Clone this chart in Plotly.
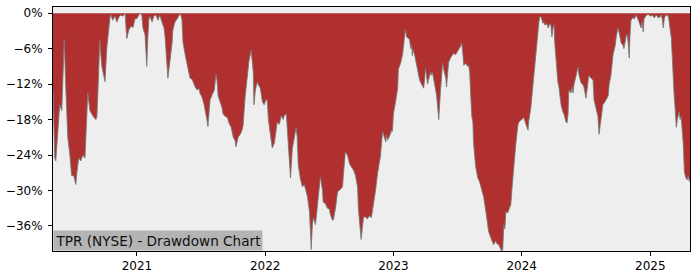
import plotly.graph_objects as go

dates = [
"2020-05-07","2020-05-09","2020-05-12","2020-05-15","2020-05-18","2020-05-21","2020-05-26","2020-06-01","2020-06-04","2020-06-08",
"2020-06-12","2020-06-15","2020-06-18","2020-06-24","2020-06-29","2020-07-05","2020-07-11","2020-07-14","2020-07-19","2020-07-25",
"2020-07-31","2020-08-06","2020-08-11","2020-08-14","2020-08-20","2020-08-26","2020-08-31","2020-09-06","2020-09-09","2020-09-14",
"2020-09-17","2020-09-23","2020-09-29","2020-10-02","2020-10-07","2020-10-13","2020-10-16","2020-10-19","2020-10-24","2020-10-30",
"2020-11-05","2020-11-11","2020-11-16","2020-11-22","2020-11-28","2020-12-03","2020-12-09","2020-12-15","2020-12-21","2020-12-26",
"2021-01-01","2021-01-07","2021-01-12","2021-01-15","2021-01-18","2021-01-24","2021-01-27","2021-01-29","2021-02-01","2021-02-04",
"2021-02-07","2021-02-13","2021-02-18","2021-02-24","2021-03-02","2021-03-07","2021-03-13","2021-03-19","2021-03-22","2021-03-27",
"2021-03-30","2021-04-05","2021-04-11","2021-04-13","2021-04-19","2021-04-25","2021-04-30","2021-05-04","2021-05-09","2021-05-12",
"2021-05-18","2021-05-24","2021-05-26","2021-06-01","2021-06-07","2021-06-10","2021-06-15","2021-06-21","2021-06-27","2021-06-29",
"2021-07-05","2021-07-11","2021-07-17","2021-07-19","2021-07-22","2021-07-25","2021-07-28","2021-08-03","2021-08-09","2021-08-14",
"2021-08-17","2021-08-20","2021-08-26","2021-08-31","2021-09-03","2021-09-09","2021-09-15","2021-09-20","2021-09-26","2021-10-02",
"2021-10-07","2021-10-10","2021-10-16","2021-10-22","2021-10-27","2021-10-30","2021-11-05","2021-11-11","2021-11-16","2021-11-22",
"2021-11-25","2021-11-28","2021-11-30","2021-12-04","2021-12-09","2021-12-12","2021-12-18","2021-12-24","2021-12-29","2022-01-04",
"2022-01-07","2022-01-10","2022-01-15","2022-01-21","2022-01-27","2022-02-01","2022-02-04","2022-02-10","2022-02-16","2022-02-21",
"2022-02-24","2022-03-02","2022-03-05","2022-03-08","2022-03-14","2022-03-16","2022-03-19","2022-03-25","2022-03-30","2022-04-02",
"2022-04-05","2022-04-11","2022-04-17","2022-04-22","2022-04-28","2022-05-01","2022-05-07","2022-05-10","2022-05-12","2022-05-15",
"2022-05-18","2022-05-24","2022-05-29","2022-06-04","2022-06-07","2022-06-13","2022-06-15","2022-06-21","2022-06-27","2022-07-03",
"2022-07-05","2022-07-11","2022-07-14","2022-07-20","2022-07-26","2022-07-31","2022-08-09","2022-08-12","2022-08-17","2022-08-23",
"2022-08-29","2022-09-03","2022-09-09","2022-09-15","2022-09-21","2022-09-23","2022-09-29","2022-10-01","2022-10-05","2022-10-08",
"2022-10-13","2022-10-19","2022-10-25","2022-10-30","2022-11-02","2022-11-05","2022-11-11","2022-11-17","2022-11-22","2022-11-25",
"2022-12-01","2022-12-04","2022-12-10","2022-12-12","2022-12-15","2022-12-21","2022-12-27","2022-12-29","2023-01-01","2023-01-07",
"2023-01-13","2023-01-15","2023-01-21","2023-01-27","2023-01-30","2023-02-01","2023-02-04","2023-02-07","2023-02-10","2023-02-16",
"2023-02-19","2023-02-22","2023-02-24","2023-02-27","2023-03-02","2023-03-08","2023-03-11","2023-03-16","2023-03-19","2023-03-25",
"2023-03-28","2023-03-31","2023-04-02","2023-04-05","2023-04-08","2023-04-11","2023-04-17","2023-04-19","2023-04-22","2023-04-25",
"2023-05-01","2023-05-04","2023-05-07","2023-05-10","2023-05-15","2023-05-18","2023-05-21","2023-05-24","2023-05-30","2023-06-01",
"2023-06-04","2023-06-07","2023-06-13","2023-06-18","2023-06-21","2023-06-27","2023-07-03","2023-07-09","2023-07-11","2023-07-14",
"2023-07-17","2023-07-20","2023-07-26","2023-07-31","2023-08-03","2023-08-06","2023-08-09","2023-08-12","2023-08-15","2023-08-17",
"2023-08-23","2023-08-29","2023-09-03","2023-09-09","2023-09-15","2023-09-21","2023-09-26","2023-09-29","2023-10-05","2023-10-11",
"2023-10-13","2023-10-19","2023-10-22","2023-10-28","2023-11-02","2023-11-05","2023-11-08","2023-11-11","2023-11-14","2023-11-17",
"2023-11-22","2023-11-28","2023-12-01","2023-12-04","2023-12-07","2023-12-10","2023-12-15","2023-12-18","2023-12-21","2023-12-24",
"2023-12-27","2024-01-01","2024-01-07","2024-01-10","2024-01-13","2024-01-19","2024-01-21","2024-01-27","2024-01-30","2024-02-02",
"2024-02-07","2024-02-10","2024-02-13","2024-02-16","2024-02-19","2024-02-22","2024-02-25","2024-02-28","2024-03-01","2024-03-04",
"2024-03-07","2024-03-13","2024-03-16","2024-03-18","2024-03-21","2024-03-24","2024-03-27","2024-03-30","2024-04-02","2024-04-04",
"2024-04-07","2024-04-10","2024-04-13","2024-04-16","2024-04-22","2024-04-27","2024-04-30","2024-05-06","2024-05-09","2024-05-12",
"2024-05-14","2024-05-20","2024-05-23","2024-05-26","2024-05-29","2024-06-03","2024-06-09","2024-06-12","2024-06-18","2024-06-23",
"2024-06-26","2024-07-02","2024-07-05","2024-07-08","2024-07-10","2024-07-16","2024-07-22","2024-07-25","2024-07-30","2024-08-05",
"2024-08-08","2024-08-11","2024-08-14","2024-08-19","2024-08-25","2024-08-31","2024-09-03","2024-09-06","2024-09-11","2024-09-17",
"2024-09-23","2024-09-26","2024-10-01","2024-10-04","2024-10-10","2024-10-16","2024-10-18","2024-10-24","2024-10-27","2024-10-30",
"2024-11-02","2024-11-04","2024-11-07","2024-11-13","2024-11-16","2024-11-22","2024-11-28","2024-11-30","2024-12-06","2024-12-09",
"2024-12-12","2024-12-14","2024-12-20","2024-12-26","2025-01-01","2025-01-07","2025-01-12","2025-01-18","2025-01-24","2025-01-29",
"2025-02-01","2025-02-04","2025-02-07","2025-02-10","2025-02-15","2025-02-18","2025-02-21","2025-02-24","2025-02-27","2025-03-02",
"2025-03-05","2025-03-07","2025-03-10","2025-03-13","2025-03-16","2025-03-19","2025-03-22","2025-03-24","2025-03-27","2025-03-30",
"2025-04-02","2025-04-05","2025-04-08","2025-04-10","2025-04-13","2025-04-16","2025-04-19","2025-04-22","2025-04-24",
]

drawdown_pct = [
-13.0,-20,-24.5,-25.0,-22,-19,-15.5,-16.5,-12,-4.5,
-12,-16,-21,-24,-27.5,-27.5,-29.0,-27,-24.5,-25,
-24,-24.5,-17,-13.5,-16.5,-17.2,-17.6,-18,-17.5,-10,
-4.6,-9,-10.5,-11.6,-6,-2,-0.8,-0.3,-1.2,-0.5,
-1.5,-0.6,-0.3,-0.5,0,-4.3,-2.8,-2.2,-2.4,-1.0,
-0.9,-0.2,0,-0.5,-2.5,-3.7,-6,-9.0,-4,-1.0,
-0.5,-1.5,-0.5,-0.3,-1.2,-0.3,-1.5,-2.5,-4,-8,
-11.0,-8,-5,-2.9,-1.5,-1.0,-0.5,0,-1.0,-4.9,
-7,-9,-9.5,-11.0,-11.2,-11.8,-12.4,-13.0,-12.8,-13.5,
-14.2,-15.5,-17,-18,-19.2,-17.5,-14.7,-13.8,-13.0,-10.3,
-11.5,-14,-15,-16,-17,-17.5,-17.6,-18.6,-19.3,-21,
-21.5,-22.6,-21,-20.5,-19.8,-19,-14,-10,-8,-6.3,
-8,-10,-15.5,-13,-11.7,-12,-12.7,-15,-15.5,-14.5,
-15,-18,-20,-22.8,-22,-20,-18.5,-18.8,-17.3,-18,
-17.4,-17.0,-20,-23.5,-27.9,-26,-23,-21,-19.3,-21,
-25.7,-28,-29.4,-29,-30.5,-31,-33.6,-37,-40,-36,
-34.6,-35.8,-32.4,-29.5,-27.7,-30,-32,-32.2,-33,-33.2,
-34,-35,-35,-33,-30.2,-30,-29.4,-27,-23.5,-24,
-25.5,-26,-26.5,-27.5,-29.5,-33,-37.5,-38.3,-36,-34.5,
-34.5,-34.8,-34.3,-34.6,-33.5,-32.5,-30,-27,-25,-24.2,
-20,-20.5,-21.8,-20.5,-21.5,-20.8,-19.8,-20,-17,-15,
-12.7,-9.5,-8.5,-7,-5.5,-4.5,-2.7,-4,-4.2,-4.5,
-6,-5.5,-7.2,-6.2,-7,-9,-10,-11.2,-11.7,-12.5,
-12.7,-11,-9.3,-10.5,-12,-11.2,-10,-10.5,-10,-11,
-12.7,-14,-16,-18,-13,-9.5,-8.4,-9.5,-11,-12.5,
-10,-8.3,-7.5,-7,-6.8,-7,-6.5,-5.8,-5.6,-5.0,
-6.5,-8.8,-8.5,-9.0,-8.8,-10,-14,-17.5,-18.4,-22,
-26,-27.9,-28.5,-30,-31.2,-33.6,-35.5,-37,-38,-38.8,
-39.2,-38.5,-39,-39.2,-40,-40.3,-40,-35.8,-36.5,-33.6,
-33.8,-33,-32.4,-30,-27,-25.7,-22.3,-20,-19,-18.4,
-18.3,-18,-17.7,-18.5,-18.8,-19.8,-18.3,-16,-14,-12.8,
-9,-7.3,-5,-3.2,-1.5,-0.5,-0.7,-1.2,-1.7,-1.5,
-2,-1.8,-2.5,-2.2,-1.8,-2.0,-4,-2.5,-2.0,-5,
-7.5,-9.5,-11.7,-12.5,-15.5,-16.7,-17,-18.4,-18.6,-17,
-13,-13.5,-12.5,-13.5,-12,-10.8,-9.1,-10.5,-11.8,-12.1,
-12.5,-14.4,-13,-11,-10.5,-11,-11.3,-14.7,-16,-17.5,
-20.5,-19,-18,-15.5,-15,-14.2,-14,-12,-10.5,-7,
-5.5,-4,-2.5,-3.2,-5,-5.5,-6,-4,-3.5,-5,
-7.6,-4,-1.2,-0.7,-1.0,-0.3,-1,-1.5,-2.5,-1.5,
-3.2,-1,-0.4,-0.2,-0.5,-0.3,-0.8,-0.3,-0.8,-0.6,
-0.3,-1,-2.5,-0.8,-0.2,-0.5,-0.3,-2,-3.5,-4.3,
-8,-11,-14,-16.4,-19.3,-18,-17,-16.7,-18,-17.5,
-20,-22.3,-26.9,-27.5,-28,-28.2,-27.5,-28.5,-28,
]

y_tick_vals = [0, -6, -12, -18, -24, -30, -36]
y_tick_text = ["0%", "\u22126%", "\u221212%", "\u221218%", "\u221224%", "\u221230%", "\u221236%"]
x_tick_vals = ["2021-01-01", "2022-01-01", "2023-01-01", "2024-01-01", "2025-01-01"]
x_tick_text = ["2021", "2022", "2023", "2024", "2025"]
title_text = "TPR (NYSE) - Drawdown Chart"

fig = go.Figure()
fig.add_trace(go.Scatter(
    x=dates, y=drawdown_pct, mode="lines", fill="tozeroy",
    fillcolor="#b03030", line=dict(color="rgba(120,120,120,0.85)", width=1),
    hoverinfo="skip", showlegend=False,
))

font_family = "DejaVu Sans, sans-serif"
fig.update_layout(
    width=700, height=280,
    margin=dict(l=53, r=10, t=7, b=29),
    paper_bgcolor="white", plot_bgcolor="#eeeeee",
    font=dict(family=font_family, size=12, color="black"),
    showlegend=False,
)
fig.update_xaxes(
    type="date", range=["2020-05-07", "2025-04-24"],
    tickvals=x_tick_vals, ticktext=x_tick_text,
    showgrid=False, zeroline=False,
    showline=True, linecolor="black", linewidth=1, mirror=True,
    ticks="outside", ticklen=4, tickcolor="black", tickwidth=1,
    tickfont=dict(size=12),
)
fig.update_yaxes(
    range=[-40.25, 1.05],
    tickvals=y_tick_vals, ticktext=y_tick_text,
    showgrid=False, zeroline=False,
    showline=True, linecolor="black", linewidth=1, mirror=True,
    ticks="outside", ticklen=4, tickcolor="black", tickwidth=1,
    tickfont=dict(size=12), ticklabelstandoff=3,
)
fig.add_annotation(
    text=title_text, xref="paper", yref="paper", x=0, y=0,
    xanchor="left", yanchor="bottom", showarrow=False,
    bgcolor="#b4b4b4", borderpad=1.5,
    font=dict(family=font_family, size=13.6, color="#111111"),
)

fig.write_html("out.html")
